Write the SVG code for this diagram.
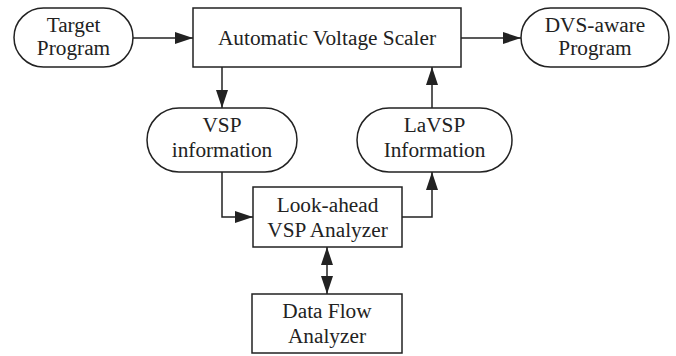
<svg xmlns="http://www.w3.org/2000/svg" width="676" height="356" viewBox="0 0 676 356">
<style>
.n{fill:#fff;stroke:#222;stroke-width:1.5}
.t{font-family:"Liberation Serif","Times New Roman",serif;font-size:21.3px;fill:#222;text-anchor:middle}
.c{fill:none;stroke:#222;stroke-width:1.5}
</style>
<defs>
<marker id="a" markerWidth="18" markerHeight="12" refX="18" refY="6" orient="auto" markerUnits="userSpaceOnUse">
<path d="M0,0 L18,6 L0,12 Z" fill="#222"/>
</marker>
<marker id="s" markerWidth="18" markerHeight="12" refX="0" refY="6" orient="auto" markerUnits="userSpaceOnUse">
<path d="M18,0 L0,6 L18,12 Z" fill="#222"/>
</marker>
</defs>
<rect width="676" height="356" fill="#fff"/>
<g id="connectors">
<line class="c" x1="133" y1="38" x2="193" y2="38" marker-end="url(#a)"/>
<line class="c" x1="461" y1="38" x2="521" y2="38" marker-end="url(#a)"/>
<line class="c" x1="222" y1="67" x2="222" y2="108" marker-end="url(#a)"/>
<line class="c" x1="432" y1="108" x2="432" y2="67" marker-end="url(#a)"/>
<polyline class="c" points="222,172 222,217 253,217" marker-end="url(#a)"/>
<polyline class="c" points="402,217 432,217 432,172" marker-end="url(#a)"/>
<line class="c" x1="327" y1="247" x2="327" y2="294" marker-start="url(#s)" marker-end="url(#a)"/>
</g>
<g id="target">
<rect class="n" x="14" y="8" width="119" height="59" rx="29.5"/>
<text class="t" x="73.5" y="32">Target</text>
<text class="t" x="73.5" y="55">Program</text>
</g>
<g id="avs">
<rect class="n" x="193" y="8" width="268" height="59"/>
<text class="t" x="327" y="45">Automatic Voltage Scaler</text>
</g>
<g id="dvs">
<rect class="n" x="521" y="8" width="148" height="59" rx="29.5"/>
<text class="t" x="595" y="32">DVS-aware</text>
<text class="t" x="595" y="55">Program</text>
</g>
<g id="vsp">
<rect class="n" x="147" y="108" width="150" height="64" rx="32"/>
<text class="t" x="222" y="132">VSP</text>
<text class="t" x="222" y="157">information</text>
</g>
<g id="lavsp">
<rect class="n" x="357" y="108" width="155" height="64" rx="32"/>
<text class="t" x="434.5" y="132">LaVSP</text>
<text class="t" x="434.5" y="157">Information</text>
</g>
<g id="lookahead">
<rect class="n" x="253" y="187" width="149" height="60"/>
<text class="t" x="327.5" y="212">Look-ahead</text>
<text class="t" x="327.5" y="237">VSP Analyzer</text>
</g>
<g id="dataflow">
<rect class="n" x="252" y="294" width="150" height="59"/>
<text class="t" x="327" y="318">Data Flow</text>
<text class="t" x="327" y="343">Analyzer</text>
</g>
</svg>
